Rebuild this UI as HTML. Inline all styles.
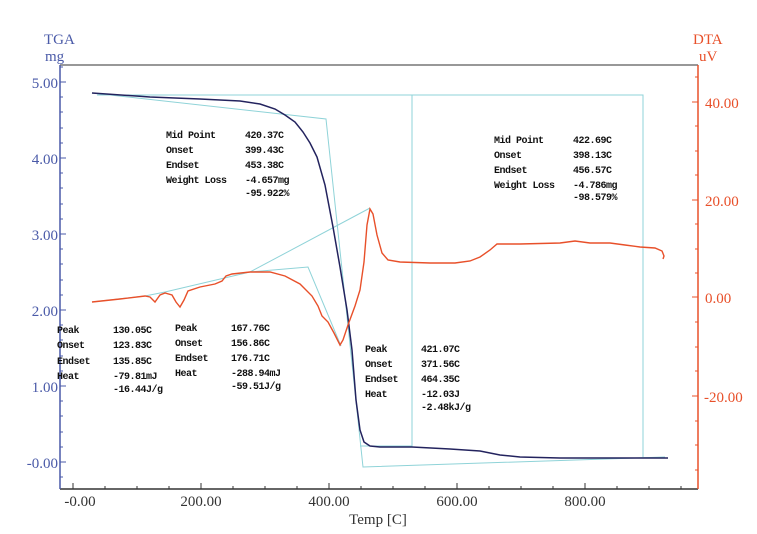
<!DOCTYPE html>
<html><head><style>
body{margin:0;background:#fff;}
svg{display:block;font-family:"Liberation Serif","Noto Serif CJK SC",serif;}
.lb{font-size:10px;fill:#111;font-weight:bold;font-family:"Liberation Mono",monospace;letter-spacing:-0.5px}
.tl{font-size:15px;fill:#4a5aa8}
.tr{font-size:15px;fill:#e8502a}
.tx{font-size:15px;fill:#333}
</style></head><body>
<svg width="757" height="534" viewBox="0 0 757 534" xmlns="http://www.w3.org/2000/svg">
<rect width="757" height="534" fill="#fff"/>
<line x1="60" y1="65" x2="698" y2="65" stroke="#777" stroke-width="1.5"/>
<line x1="60" y1="489" x2="698" y2="489" stroke="#333" stroke-width="1.5"/>
<line x1="60" y1="65" x2="60" y2="489" stroke="#4a5aa8" stroke-width="1.5"/>
<line x1="698" y1="65" x2="698" y2="489" stroke="#e8502a" stroke-width="1.5"/>
<g stroke="#4a5aa8" stroke-width="1">
<line x1="60" y1="82" x2="66" y2="82"/><line x1="60" y1="158" x2="66" y2="158"/><line x1="60" y1="234" x2="66" y2="234"/><line x1="60" y1="310" x2="66" y2="310"/><line x1="60" y1="386" x2="66" y2="386"/><line x1="60" y1="462" x2="66" y2="462"/>
<line x1="60" y1="97" x2="63" y2="97"/><line x1="60" y1="112" x2="63" y2="112"/><line x1="60" y1="128" x2="63" y2="128"/><line x1="60" y1="143" x2="63" y2="143"/>
<line x1="60" y1="173" x2="63" y2="173"/><line x1="60" y1="188" x2="63" y2="188"/><line x1="60" y1="204" x2="63" y2="204"/><line x1="60" y1="219" x2="63" y2="219"/>
<line x1="60" y1="249" x2="63" y2="249"/><line x1="60" y1="264" x2="63" y2="264"/><line x1="60" y1="280" x2="63" y2="280"/><line x1="60" y1="295" x2="63" y2="295"/>
<line x1="60" y1="325" x2="63" y2="325"/><line x1="60" y1="340" x2="63" y2="340"/><line x1="60" y1="356" x2="63" y2="356"/><line x1="60" y1="371" x2="63" y2="371"/>
<line x1="60" y1="401" x2="63" y2="401"/><line x1="60" y1="416" x2="63" y2="416"/><line x1="60" y1="432" x2="63" y2="432"/><line x1="60" y1="447" x2="63" y2="447"/>
<line x1="60" y1="477" x2="63" y2="477"/><line x1="60" y1="67" x2="63" y2="67"/>
</g>
<text class="tl" x="58" y="88" text-anchor="end">5.00</text>
<text class="tl" x="58" y="164" text-anchor="end">4.00</text>
<text class="tl" x="58" y="240" text-anchor="end">3.00</text>
<text class="tl" x="58" y="316" text-anchor="end">2.00</text>
<text class="tl" x="58" y="392" text-anchor="end">1.00</text>
<text class="tl" x="58" y="468" text-anchor="end">-0.00</text>
<text class="tl" x="44" y="44">TGA</text>
<text class="tl" x="45" y="61">mg</text>
<g stroke="#e8502a" stroke-width="1">
<line x1="692" y1="102" x2="698" y2="102"/><line x1="692" y1="200" x2="698" y2="200"/><line x1="692" y1="297" x2="698" y2="297"/><line x1="692" y1="396" x2="698" y2="396"/>
<line x1="695" y1="77" x2="698" y2="77"/><line x1="695" y1="126" x2="698" y2="126"/><line x1="695" y1="151" x2="698" y2="151"/><line x1="695" y1="175" x2="698" y2="175"/>
<line x1="695" y1="224" x2="698" y2="224"/><line x1="695" y1="249" x2="698" y2="249"/><line x1="695" y1="273" x2="698" y2="273"/>
<line x1="695" y1="322" x2="698" y2="322"/><line x1="695" y1="347" x2="698" y2="347"/><line x1="695" y1="371" x2="698" y2="371"/>
<line x1="695" y1="421" x2="698" y2="421"/><line x1="695" y1="445" x2="698" y2="445"/><line x1="695" y1="470" x2="698" y2="470"/>
</g>
<text class="tr" x="705" y="108">40.00</text>
<text class="tr" x="705" y="206">20.00</text>
<text class="tr" x="705" y="303">0.00</text>
<text class="tr" x="704" y="402">-20.00</text>
<text class="tr" x="693" y="44">DTA</text>
<text class="tr" x="699" y="61">uV</text>
<g stroke="#333" stroke-width="1">
<line x1="73" y1="483" x2="73" y2="489"/><line x1="201" y1="483" x2="201" y2="489"/><line x1="329" y1="483" x2="329" y2="489"/><line x1="457" y1="483" x2="457" y2="489"/><line x1="585" y1="483" x2="585" y2="489"/>
<line x1="105" y1="486" x2="105" y2="489"/><line x1="137" y1="486" x2="137" y2="489"/><line x1="169" y1="486" x2="169" y2="489"/><line x1="233" y1="486" x2="233" y2="489"/><line x1="265" y1="486" x2="265" y2="489"/><line x1="297" y1="486" x2="297" y2="489"/><line x1="361" y1="486" x2="361" y2="489"/><line x1="393" y1="486" x2="393" y2="489"/><line x1="425" y1="486" x2="425" y2="489"/><line x1="489" y1="486" x2="489" y2="489"/><line x1="521" y1="486" x2="521" y2="489"/><line x1="553" y1="486" x2="553" y2="489"/><line x1="617" y1="486" x2="617" y2="489"/><line x1="649" y1="486" x2="649" y2="489"/><line x1="681" y1="486" x2="681" y2="489"/>
</g>
<text class="tx" x="80" y="506" text-anchor="middle">-0.00</text>
<text class="tx" x="201" y="506" text-anchor="middle">200.00</text>
<text class="tx" x="329" y="506" text-anchor="middle">400.00</text>
<text class="tx" x="457" y="506" text-anchor="middle">600.00</text>
<text class="tx" x="585" y="506" text-anchor="middle">800.00</text>
<text class="tx" x="378" y="524" text-anchor="middle">Temp [C]</text>
<g fill="none" stroke="#8fd3d8" stroke-width="1">
<polyline points="92,93 326,119 363,467 665,457"/>
<polyline points="97,95 643,95 643,457"/>
<polyline points="412,95 412,446 360,446"/>
<polyline points="92,302 145,296 165,292 250,272 308,267 341,346"/>
<line x1="250" y1="272" x2="370" y2="208"/>
</g>
<path fill="none" stroke="#23235e" stroke-width="1.5" d="M92,93 L150,97 L200,99 L240,101 L260,104 L275,109 L285,115 L295,122 L303,132 L310,143 L317,157 L325,185 L333,227 L340,267 L347,310 L352,350 L356,400 L360,430 L364,442 L370,446 L380,447 L412,447 L450,449 L480,451 L500,455 L520,457 L560,458 L640,458 L668,458"/>
<path fill="none" stroke="#e8502a" stroke-width="1.4" d="M92,302 L120,299 L145,296 L150,297 L155,302 L160,295 L165,293 L172,295 L176,302 L180,307 L184,300 L188,291 L200,287 L215,284 L222,281 L226,276 L232,274 L250,272 L270,272 L285,276 L300,284 L312,296 L318,306 L322,316 L328,322 L334,333 L340,345 L343,340 L348,325 L355,306 L360,290 L364,262 L367,225 L370,209 L373,214 L377,235 L382,253 L388,260 L400,262 L430,263 L455,263 L470,261 L480,257 L490,250 L497,244 L520,244 L560,243 L575,241 L590,243 L610,243 L625,245 L640,247 L655,248 L662,251 L664,256 L663,259"/>
<g class="lb">
<text x="166" y="138">Mid Point</text><text x="245" y="138">420.37C</text>
<text x="166" y="153">Onset</text><text x="245" y="153">399.43C</text>
<text x="166" y="168">Endset</text><text x="245" y="168">453.38C</text>
<text x="166" y="183">Weight Loss</text><text x="245" y="183">-4.657mg</text>
<text x="245" y="196">-95.922%</text>
<text x="494" y="143">Mid Point</text><text x="573" y="143">422.69C</text>
<text x="494" y="158">Onset</text><text x="573" y="158">398.13C</text>
<text x="494" y="173">Endset</text><text x="573" y="173">456.57C</text>
<text x="494" y="188">Weight Loss</text><text x="573" y="188">-4.786mg</text>
<text x="573" y="200">-98.579%</text>
<text x="57" y="333">Peak</text><text x="113" y="333">130.05C</text>
<text x="57" y="348">Onset</text><text x="113" y="348">123.83C</text>
<text x="57" y="364">Endset</text><text x="113" y="364">135.85C</text>
<text x="57" y="379">Heat</text><text x="113" y="379">-79.81mJ</text>
<text x="113" y="392">-16.44J/g</text>
<text x="175" y="331">Peak</text><text x="231" y="331">167.76C</text>
<text x="175" y="346">Onset</text><text x="231" y="346">156.86C</text>
<text x="175" y="361">Endset</text><text x="231" y="361">176.71C</text>
<text x="175" y="376">Heat</text><text x="231" y="376">-288.94mJ</text>
<text x="231" y="389">-59.51J/g</text>
<text x="365" y="352">Peak</text><text x="421" y="352">421.07C</text>
<text x="365" y="367">Onset</text><text x="421" y="367">371.56C</text>
<text x="365" y="382">Endset</text><text x="421" y="382">464.35C</text>
<text x="365" y="397">Heat</text><text x="421" y="397">-12.03J</text>
<text x="421" y="410">-2.48kJ/g</text>
</g>
</svg>
</body></html>
